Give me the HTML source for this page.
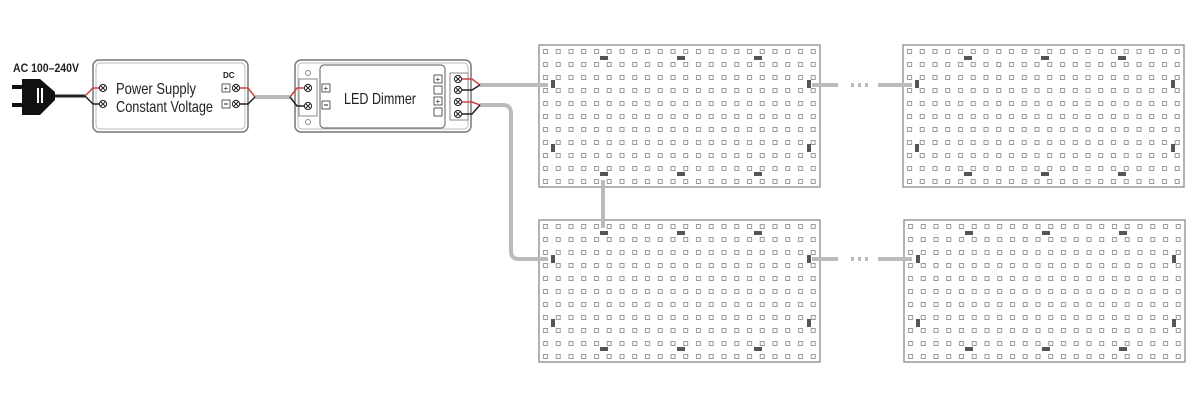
<!DOCTYPE html>
<html><head><meta charset="utf-8"><style>
html,body{margin:0;padding:0;background:#fff;width:1200px;height:400px;overflow:hidden}
svg text{font-family:"Liberation Sans",sans-serif}
</style></head><body>
<svg width="1200" height="400" viewBox="0 0 1200 400" xmlns="http://www.w3.org/2000/svg">
<defs>
<pattern id="g" x="0" y="0" width="12.75" height="13" patternUnits="userSpaceOnUse">
<rect x="4.5" y="4.5" width="4" height="4" fill="none" stroke="#999" stroke-width="1"/>
</pattern>
<g id="panel">
<rect x="0" y="0" width="281" height="142" fill="#fff" stroke="#999" stroke-width="1.5"/>
<rect x="2" y="2" width="277" height="138" fill="url(#g)"/>
<rect x="61" y="11" width="8" height="4" fill="#555"/>
<rect x="138" y="11" width="8" height="4" fill="#555"/>
<rect x="215" y="11" width="8" height="4" fill="#555"/>
<rect x="61" y="127" width="8" height="4" fill="#555"/>
<rect x="138" y="127" width="8" height="4" fill="#555"/>
<rect x="215" y="127" width="8" height="4" fill="#555"/>
<rect x="12" y="35" width="4" height="8" fill="#555"/>
<rect x="12" y="99" width="4" height="8" fill="#555"/>
<rect x="268" y="35" width="4" height="8" fill="#555"/>
<rect x="268" y="99" width="4" height="8" fill="#555"/>
</g>
<g id="screw">
<circle r="3.6" fill="#fff" stroke="#222" stroke-width="1"/>
<path d="M-2.4,-2.4L2.4,2.4M-2.4,2.4L2.4,-2.4" stroke="#222" stroke-width="1"/>
</g>
</defs>

<g stroke="#bbb" stroke-width="4" fill="none">
<line x1="55" y1="96" x2="85" y2="96" stroke="#222" stroke-width="3"/>
<line x1="255" y1="97" x2="290" y2="97"/>
<line x1="480" y1="85" x2="548" y2="85"/>
<path d="M480,105 H503 Q511,105 511,113 V251 Q511,259 519,259 H548"/>
<line x1="603" y1="175" x2="603" y2="232"/>
<line x1="806" y1="85" x2="838" y2="85"/>
<line x1="878" y1="85" x2="916" y2="85"/>
<line x1="806" y1="259" x2="838" y2="259"/>
<line x1="878" y1="259" x2="916" y2="259"/>
</g>
<g fill="#bbb">
<rect x="851" y="83" width="3" height="4"/><rect x="858" y="83" width="3" height="4"/><rect x="865" y="83" width="3" height="4"/>
<rect x="851" y="257" width="3" height="4"/><rect x="858" y="257" width="3" height="4"/><rect x="865" y="257" width="3" height="4"/>
</g>

<use href="#panel" x="539" y="45"/>
<use href="#panel" x="539" y="220"/>
<use href="#panel" x="903" y="45"/>
<use href="#panel" x="904" y="220"/>
<g stroke="#bbb" stroke-width="4">
<line x1="530" y1="85" x2="548" y2="85"/>
<line x1="530" y1="259" x2="548" y2="259"/>
<line x1="603" y1="180" x2="603" y2="228"/>
<line x1="812" y1="85" x2="830" y2="85"/>
<line x1="812" y1="259" x2="830" y2="259"/>
<line x1="892" y1="85" x2="912" y2="85"/>
<line x1="892" y1="259" x2="912" y2="259"/>
</g>

<text x="13" y="72" font-size="12" font-weight="bold" fill="#222" textLength="66" lengthAdjust="spacingAndGlyphs">AC 100–240V</text>
<rect x="12" y="85" width="12" height="4" fill="#111"/>
<rect x="12" y="103" width="12" height="4" fill="#111"/>
<path d="M22,79 H40 L55,92 V100 L40,115 H22 Z" fill="#111"/>
<rect x="37" y="88" width="2" height="15" fill="#fff"/><rect x="41" y="88" width="2" height="15" fill="#fff"/>

<rect x="93" y="60" width="155" height="72" rx="6" fill="#fff" stroke="#777" stroke-width="1.5"/>
<rect x="96" y="63" width="149" height="66" rx="4" fill="none" stroke="#bbb" stroke-width="1"/>
<path d="M85,96 L93,88 L101,88" stroke="#c44" stroke-width="1.5" fill="none"/>
<path d="M85,96 L93,104 L101,104" stroke="#222" stroke-width="1.5" fill="none"/>
<use href="#screw" x="103" y="88"/><use href="#screw" x="103" y="104"/>
<text x="116" y="94" font-size="16" fill="#222" textLength="80" lengthAdjust="spacingAndGlyphs">Power Supply</text>
<text x="116" y="112" font-size="16" fill="#222" textLength="97" lengthAdjust="spacingAndGlyphs">Constant Voltage</text>
<text x="223" y="78" font-size="8" font-weight="bold" fill="#222">DC</text>
<rect x="222" y="84" width="8" height="8" fill="#fff" stroke="#333" stroke-width="0.8"/>
<text x="223.5" y="91" font-size="8" fill="#222">+</text>
<rect x="222" y="100" width="8" height="8" fill="#fff" stroke="#333" stroke-width="0.8"/>
<line x1="224" y1="104" x2="228" y2="104" stroke="#222"/>
<use href="#screw" x="236" y="88"/><use href="#screw" x="236" y="104"/>
<path d="M240,88 L248,88 L255,97" stroke="#c44" stroke-width="1.5" fill="none"/>
<path d="M240,104 L248,104 L255,97" stroke="#222" stroke-width="1.5" fill="none"/>

<rect x="295" y="60" width="176" height="72" rx="6" fill="#fff" stroke="#777" stroke-width="1.5"/>
<rect x="298" y="63" width="170" height="66" rx="4" fill="none" stroke="#bbb" stroke-width="1"/>
<rect x="320" y="65" width="125" height="63" rx="4" fill="#fff" stroke="#777" stroke-width="1.2"/>
<rect x="299" y="79" width="18" height="37" fill="#fff" stroke="#888" stroke-width="1"/>
<circle cx="308" cy="73" r="2.5" fill="#fff" stroke="#888"/>
<circle cx="308" cy="122" r="2.5" fill="#fff" stroke="#888"/>
<path d="M290,97 L297,88 L304,88" stroke="#c44" stroke-width="1.5" fill="none"/>
<path d="M290,97 L297,106 L304,106" stroke="#222" stroke-width="1.5" fill="none"/>
<use href="#screw" x="308" y="88"/><use href="#screw" x="308" y="106"/>
<rect x="322" y="84" width="8" height="8" fill="#fff" stroke="#333" stroke-width="0.8"/>
<text x="323.5" y="91" font-size="8" fill="#222">+</text>
<rect x="322" y="101" width="8" height="8" fill="#fff" stroke="#333" stroke-width="0.8"/>
<line x1="324" y1="105" x2="328" y2="105" stroke="#222"/>
<text x="344" y="104" font-size="16" fill="#222" textLength="72" lengthAdjust="spacingAndGlyphs">LED Dimmer</text>
<g fill="#fff" stroke="#333" stroke-width="0.8">
<rect x="434" y="75" width="8" height="8"/><rect x="434" y="86" width="8" height="8"/>
<rect x="434" y="97" width="8" height="8"/><rect x="434" y="108" width="8" height="8"/>
</g>
<text x="435.5" y="82" font-size="8" fill="#222">+</text>
<text x="435.5" y="104" font-size="8" fill="#222">+</text>
<rect x="450" y="73" width="18" height="47" fill="#fff" stroke="#888" stroke-width="1"/>
<use href="#screw" x="458" y="79"/><use href="#screw" x="458" y="90"/>
<use href="#screw" x="458" y="102"/><use href="#screw" x="458" y="114"/>
<path d="M462,79 L472,79 L480,85" stroke="#c44" stroke-width="1.5" fill="none"/>
<path d="M462,90 L472,90 L480,85" stroke="#222" stroke-width="1.5" fill="none"/>
<path d="M462,102 L472,102 L480,105" stroke="#c44" stroke-width="1.5" fill="none"/>
<path d="M462,114 L472,114 L480,105" stroke="#222" stroke-width="1.5" fill="none"/>
</svg>
</body></html>
